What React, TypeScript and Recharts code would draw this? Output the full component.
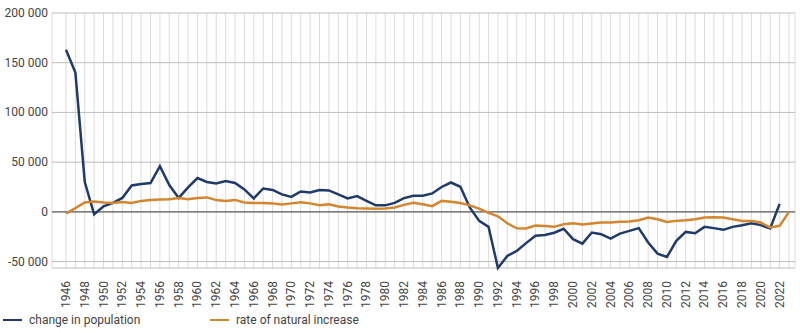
import React from 'react';
import { LineChart, Line, XAxis, YAxis, CartesianGrid, ReferenceLine, Legend } from 'recharts';

const years = [
  1946, 1947, 1948, 1949, 1950, 1951, 1952, 1953, 1954, 1955,
  1956, 1957, 1958, 1959, 1960, 1961, 1962, 1963, 1964, 1965,
  1966, 1967, 1968, 1969, 1970, 1971, 1972, 1973, 1974, 1975,
  1976, 1977, 1978, 1979, 1980, 1981, 1982, 1983, 1984, 1985,
  1986, 1987, 1988, 1989, 1990, 1991, 1992, 1993, 1994, 1995,
  1996, 1997, 1998, 1999, 2000, 2001, 2002, 2003, 2004, 2005,
  2006, 2007, 2008, 2009, 2010, 2011, 2012, 2013, 2014, 2015,
  2016, 2017, 2018, 2019, 2020, 2021, 2022, 2023,
];

const changeInPopulation: (number | null)[] = [
  163000, 140000, 30000, -2500, 5500, 9000, 14000, 26500, 28000, 29000,
  46000, 27000, 14000, 24500, 34000, 30000, 28500, 31000, 29000, 22500,
  13500, 23500, 22000, 17500, 15000, 20500, 19500, 22000, 21500, 17500,
  13500, 15800, 11000, 6500, 6500, 9000, 13800, 16100, 16100, 18500,
  25000, 29500, 25200, 4400, -9100, -15100, -56500, -44400, -39300, -31500,
  -24000, -23200, -21000, -17000, -27500, -32000, -20800, -22500, -26900, -21900,
  -19200, -16400, -30900, -42000, -45400, -29200, -20200, -21500, -15100, -16400,
  -18100, -15100, -13400, -11400, -13400, -16800, 8000, null,
];

const naturalIncrease: number[] = [
  -1700, 3700, 9400, 10500, 9400, 9000, 10000, 8800, 11000, 12000,
  12400, 12700, 13800, 12700, 14000, 14500, 11800, 11000, 12000, 9400,
  9000, 8800, 8500, 7400, 8500, 9700, 8500, 6700, 7700, 5400,
  4400, 3700, 3400, 3000, 3400, 4400, 7000, 9000, 7700, 5700,
  11000, 10200, 8800, 6500, 3200, -1000, -4500, -11500, -16500, -16800,
  -13800, -14200, -15100, -12400, -11400, -12800, -11800, -10800, -10800, -10100,
  -9700, -8400, -5700, -7400, -10100, -9100, -8400, -7400, -5700, -5400,
  -5700, -7400, -9100, -9100, -10800, -15800, -14100, 0,
];

const yTicks = [-50000, 0, 50000, 100000, 150000, 200000];

const seriesNames = ['change in population', 'rate of natural increase'];
const seriesColors = ['#1f3a6b', '#d4862e'];

const data = years.map((y, i) => ({
  year: y,
  pop: changeInPopulation[i],
  nat: naturalIncrease[i],
}));

const fmt = (v: number) => {
  const s = Math.abs(v).toString().replace(/\B(?=(\d{3})+(?!\d))/g, ' ');
  return (v < 0 ? '-' : '') + s;
};

const XTick = (props: any) => {
  const { x, y, payload } = props;
  const yr = Number(payload.value);
  if (yr % 2 !== 0) return <g />;
  const ty = y + 13;
  return (
    <text
      x={x}
      y={ty}
      transform={`rotate(-90, ${x}, ${ty})`}
      textAnchor="end"
      dominantBaseline="central"
      fontSize={12}
      fill="#444"
      fontFamily="Roboto"
    >
      {yr}
    </text>
  );
};

const YTick = (props: any) => {
  const { y, payload } = props;
  return (
    <text
      x={48}
      y={y}
      textAnchor="end"
      dominantBaseline="central"
      fontSize={12}
      fill="#444"
      fontFamily="Roboto"
    >
      {fmt(Number(payload.value))}
    </text>
  );
};

const LegendContent = (props: any) => {
  const { payload } = props;
  const lefts = [3, 210];
  return (
    <div style={{ position: 'relative', height: 28, width: 800 }}>
      {(payload || []).map((p: any, i: number) => (
        <div
          key={i}
          style={{
            position: 'absolute',
            left: lefts[i],
            top: 8,
            display: 'flex',
            alignItems: 'center',
            fontFamily: 'Roboto',
            fontSize: 12,
            color: '#444',
          }}
        >
          <span style={{ display: 'inline-block', width: 19, height: 2, background: p.color, marginRight: 7 }} />
          <span>{p.value}</span>
        </div>
      ))}
    </div>
  );
};

export default function App() {
  return (
    <div style={{ position: 'absolute', left: 0, top: 0, width: 800, height: 333, background: '#fff' }}>
      <LineChart width={800} height={333} data={data} margin={{ top: 13, right: 5, bottom: 0, left: 0 }}>
        <CartesianGrid horizontal={false} vertical={true} stroke="#dcdcdc" />
        <CartesianGrid horizontal={true} vertical={false} stroke="#bdbdbd" />
        <XAxis
          dataKey="year"
          type="category"
          interval={0}
          tick={<XTick />}
          tickLine={false}
          axisLine={false}
          tickSize={0}
          tickMargin={0}
          height={37}
          padding={{ left: 14, right: 6 }}
        />
        <YAxis
          domain={[-50000, 200000]}
          ticks={yTicks}
          width={52}
          tickLine={false}
          axisLine={false}
          tickSize={0}
          tickMargin={4}
          tick={<YTick />}
        />
        <ReferenceLine y={0} stroke="#666" strokeWidth={1.2} />
        <Line
          type="linear"
          dataKey="pop"
          name={seriesNames[0]}
          stroke={seriesColors[0]}
          strokeWidth={2.5}
          dot={false}
          isAnimationActive={false}
          connectNulls={false}
        />
        <Line
          type="linear"
          dataKey="nat"
          name={seriesNames[1]}
          stroke={seriesColors[1]}
          strokeWidth={2.5}
          dot={false}
          isAnimationActive={false}
        />
        <Legend verticalAlign="bottom" align="left" height={28} content={<LegendContent />} />
      </LineChart>
    </div>
  );
}
